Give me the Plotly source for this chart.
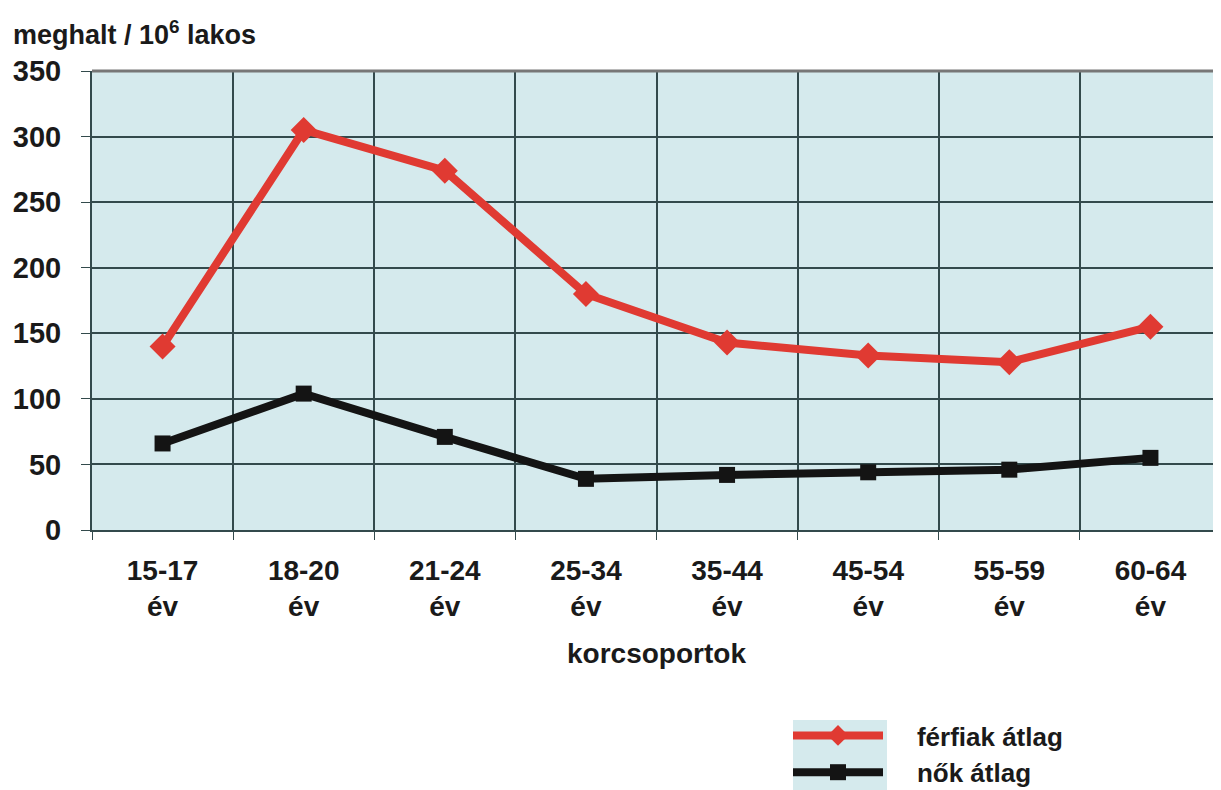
import plotly.graph_objects as go

categories = ["15-17<br>év", "18-20<br>év", "21-24<br>év", "25-34<br>év",
              "35-44<br>év", "45-54<br>év", "55-59<br>év", "60-64<br>év"]
ferfiak = [140, 305, 274, 180, 143, 133, 128, 155]
nok = [66, 104, 71, 39, 42, 44, 46, 55]
y_ticks = [0, 50, 100, 150, 200, 250, 300, 350]
series_names = ["\u00a0\u00a0\u00a0\u00a0férfiak átlag", "\u00a0\u00a0\u00a0\u00a0nők átlag"]

FONT = "Liberation Sans, Arial, sans-serif"
GRID = "#334a4c"
BG = "#d5eaed"
W, H = 1213, 782          # figure size (page body adds ~8px offset)
L, T, B = 84, 63, 260     # margins
PW, PH = W - L, H - T - B  # plot area size in px


def px_x(x):
    return (x - L) / PW


def px_y(y):
    return (H - B - y) / PH


fig = go.Figure()
fig.add_trace(go.Scatter(
    x=categories, y=ferfiak, name=series_names[0], mode="lines+markers",
    line=dict(color="#e03a32", width=8),
    marker=dict(symbol="diamond", size=20, color="#e03a32"),
))
fig.add_trace(go.Scatter(
    x=categories, y=nok, name=series_names[1], mode="lines+markers",
    line=dict(color="#141414", width=8),
    marker=dict(symbol="square", size=16, color="#141414"),
))

fig.update_layout(
    width=W, height=H,
    margin=dict(l=L, r=0, t=T, b=B, autoexpand=False),
    paper_bgcolor="white", plot_bgcolor=BG,
    font=dict(family=FONT, size=27, color="#1a1a1a", weight="bold"),
    showlegend=True,
    legend=dict(
        x=px_x(780), y=px_y(704), xanchor="left", yanchor="top",
        bgcolor="rgba(0,0,0,0)", font=dict(size=26, weight="bold"),
        itemwidth=90, tracegroupgap=0,
    ),
    xaxis=dict(
        type="category", tickson="boundaries", showgrid=True,
        gridcolor=GRID, gridwidth=1.5, ticks="outside", ticklen=8,
        tickcolor=GRID, showline=True, linecolor=GRID, linewidth=2,
        tickfont=dict(size=28, weight="bold"), ticklabelstandoff=14,
        range=[-0.5, 7.5],
        title=dict(text="korcsoportok", font=dict(size=28, weight="bold"), standoff=22),
    ),
    yaxis=dict(
        range=[0, 350], tickvals=y_ticks, showgrid=True,
        gridcolor=GRID, gridwidth=1.5, ticks="outside", ticklen=9,
        tickcolor=GRID, showline=True, linecolor=GRID, linewidth=2,
        tickfont=dict(size=29, weight="bold"), zeroline=False,
        ticklabelstandoff=14,
    ),
    shapes=[
        dict(type="line", xref="paper", yref="paper", x0=0, x1=1, y0=1, y1=1,
             line=dict(color="#777777", width=3)),
        dict(type="rect", xref="paper", yref="paper", layer="below",
             x0=px_x(785), x1=px_x(879), y0=px_y(790), y1=px_y(712),
             fillcolor=BG, line=dict(width=0)),
    ],
    annotations=[dict(
        text="meghalt / 10<sup>6</sup> lakos", xref="paper", yref="paper",
        x=px_x(3), y=px_y(25), xanchor="left", yanchor="middle", showarrow=False,
        font=dict(size=27, weight="bold"),
    )],
)

fig.write_html("out.html")
